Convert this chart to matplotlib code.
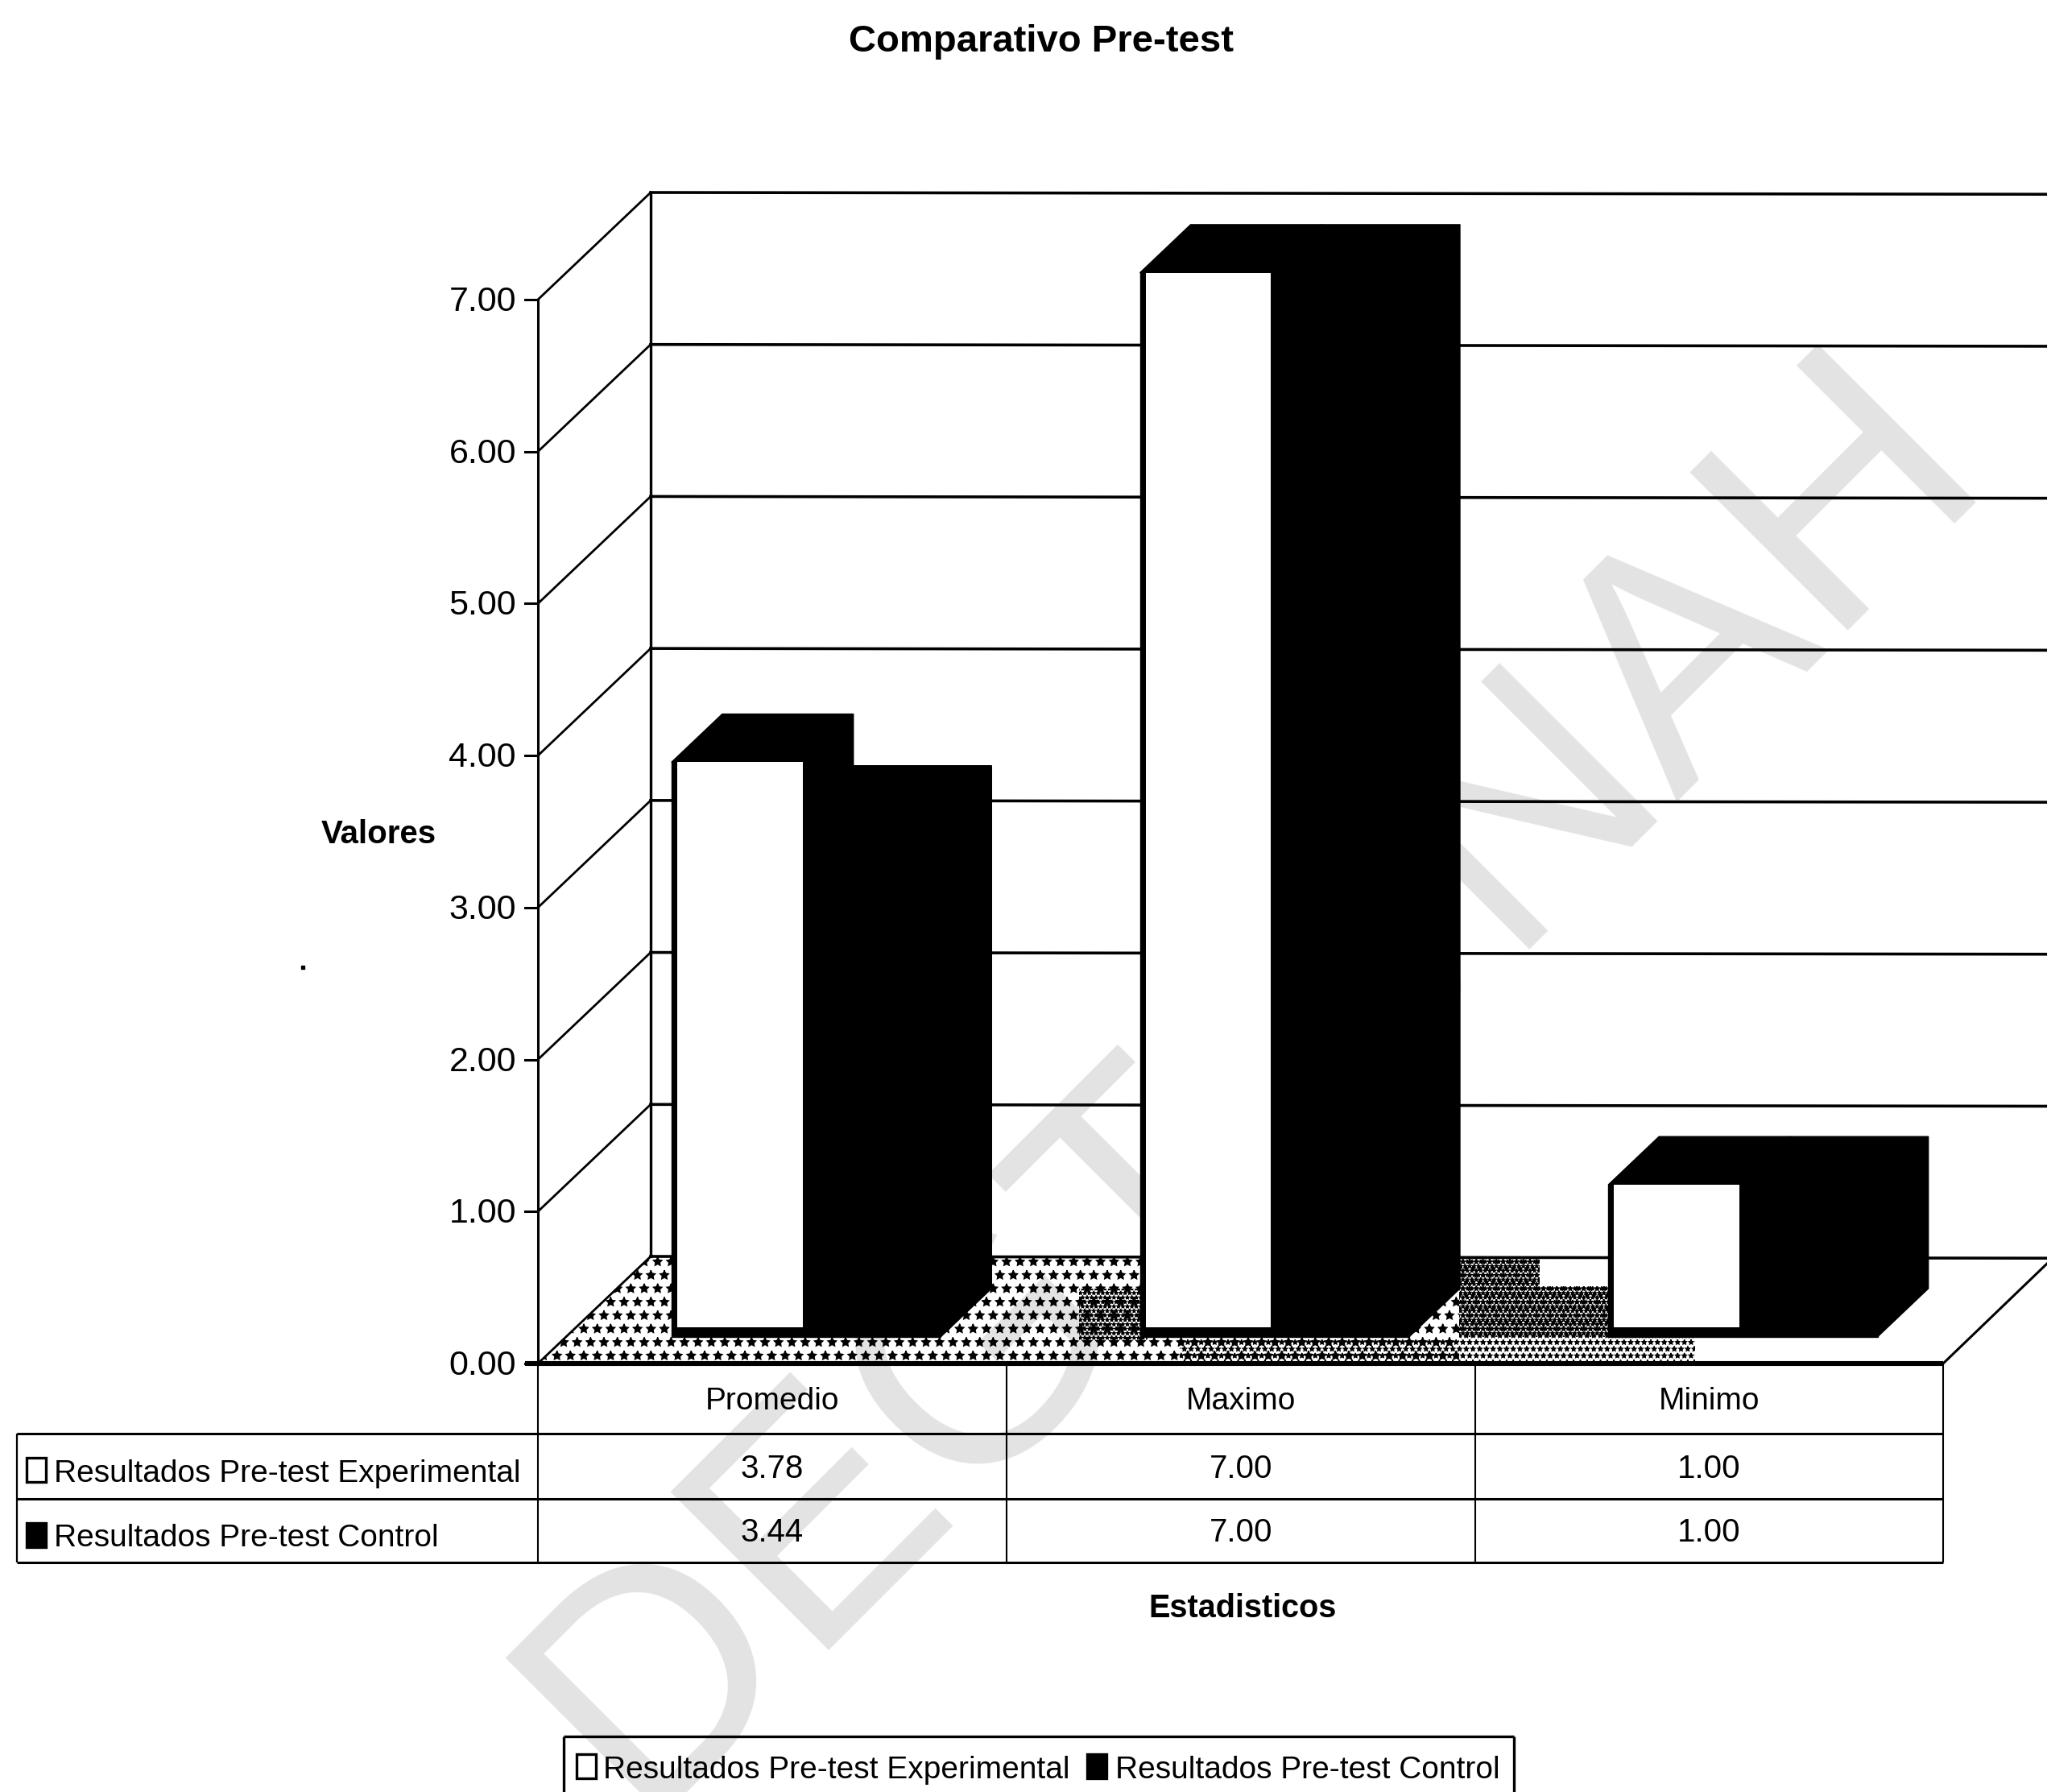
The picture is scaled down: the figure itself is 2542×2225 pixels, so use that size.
import matplotlib
matplotlib.use('Agg')
import matplotlib.pyplot as plt
from matplotlib.patches import Polygon, Rectangle

categorias = ['Promedio', 'Maximo', 'Minimo']
experimental = [3.78, 7.00, 1.00]
control = [3.44, 7.00, 1.00]
serie_exp = 'Resultados Pre-test Experimental'
serie_ctl = 'Resultados Pre-test Control'
ticks_y = [0, 1, 2, 3, 4, 5, 6, 7]

W, H = 2542, 2225
LETRA = 'Liberation Sans'
plt.rcParams['hatch.linewidth'] = 1.0

fig = plt.figure(figsize=(W / 100, H / 100), dpi=100, facecolor='white')

# capa en pixeles para tabla, titulos y leyenda
fondo = fig.add_axes([0, 0, 1, 1])
fondo.set_xlim(0, W)
fondo.set_ylim(H, 0)
fondo.axis('off')

# marca de agua
fondo.text(1556, 1342, 'DEGT-UNAH', rotation=45, fontsize=290, color='#e3e3e3',
           family=LETRA, ha='center', va='center',
           rotation_mode='anchor', zorder=0)

# plano frontal del grafico: x en categorias, y en valores
X0, X1, Y0, Y7 = 668, 2413, 1693, 372
ax = fig.add_axes([X0 / W, 1 - Y0 / H, (X1 - X0) / W, (Y0 - Y7) / H])
ax.set_xlim(0, 3)
ax.set_ylim(0, 7)
ax.patch.set_alpha(0)
ax.axis('off')

PX = 3 / (X1 - X0)
PY = 7 / (Y0 - Y7)
DX = 140 * PX
DY = 133 * PY


def fondo_linea(xs, ys, lw=2.4, z=3):
    fondo.plot(xs, ys, color='black', lw=lw, solid_capstyle='butt', zorder=z)


def prof(x, y, d):
    # proyecta un punto hacia el fondo segun la profundidad d
    return x + d * DX, y + d * DY


# piso punteado
piso = Polygon([(X0, Y0), (X0 + 140, 1560), (1812, 1560), (1812, Y0)],
               facecolor='none', edgecolor='black', hatch='*', lw=0, zorder=1)
fondo.add_patch(piso)
for pts, trama in [([(1812, 1560), (2105, 1560), (2105, 1690), (1812, 1690)], '**'),
                   ([(1812, 1560), (2000, 1560), (2000, 1660), (1812, 1660)], '***'),
                   ([(1340, 1600), (1425, 1600), (1425, 1665), (1340, 1665)], '***'),
                   ([(1465, 1662), (1812, 1662), (1812, 1690), (1465, 1690)], '**')]:
    fondo.add_patch(Polygon(pts, facecolor='none', edgecolor='black', hatch=trama, lw=0, zorder=1))
fondo.add_patch(Rectangle((1912, 1562), 85, 35, facecolor='white', lw=0, zorder=1.5))

# pared del fondo con lineas de division
for t in ticks_y:
    x_a, y_a = prof(0, t, 1)
    ax.plot([0, x_a], [t, y_a], color='black', lw=2.0, clip_on=False, zorder=2)
    ax.plot([x_a, 3.3], [y_a, y_a - 0.012], color='black', lw=2.6, clip_on=False, zorder=2)
    ax.plot([-16 * PX, 0], [t, t], color='black', lw=2.2, clip_on=False, zorder=2)
    ax.text(-27 * PX, t - 3 * PY, format(t, '.2f'), ha='right', va='center', fontsize=31,
            family=LETRA, clip_on=False)
x_a, _ = prof(0, 0, 1)
ax.plot([x_a, x_a], [DY, 7 + DY], color='black', lw=2.4, clip_on=False, zorder=2)
ax.plot([0, 0], [0, 7], color='black', lw=2.2, clip_on=False, zorder=2)
ax.plot([3, 3 + 130 * PX], [0, 125 * PY], color='black', lw=2.2, clip_on=False, zorder=2)

# columnas en 3D: cara frontal, lateral y superior
D_FRENTE = 0.25
D_ATRAS = 0.70
ANCHO_EXP = 0.28
ANCHO_CTL = 0.295
HUECO = 0.225
for i in range(len(categorias)):
    izq = i + HUECO
    med = izq + ANCHO_EXP
    der = med + ANCHO_CTL
    dx_f, dy_f = D_FRENTE * DX, D_FRENTE * DY
    dx_a, dy_a = D_ATRAS * DX, D_ATRAS * DY
    for a, b, v in [(izq, med, experimental[i]), (med, der, control[i])]:
        ax.fill([a + dx_f, a + dx_a, b + dx_a, b + dx_f],
                [v + dy_f, v + dy_a, v + dy_a, v + dy_f],
                facecolor='black', edgecolor='black', lw=1, zorder=4, clip_on=False)
        ax.fill([b + dx_f, b + dx_a, b + dx_a, b + dx_f],
                [dy_f, dy_a, v + dy_a, v + dy_f],
                facecolor='black', edgecolor='black', lw=1, zorder=4, clip_on=False)
    ax.bar(izq + dx_f, experimental[i], bottom=dy_f, width=med - izq, align='edge',
           color='black', edgecolor='black', lw=1, zorder=5, clip_on=False)
    ax.bar(med + dx_f, control[i], bottom=dy_f, width=der - med, align='edge',
           color='black', edgecolor='black', lw=1, zorder=6, clip_on=False)
    ax.bar(izq + dx_f + 7 * PX, experimental[i] - 12 * PY, bottom=dy_f + 12 * PY,
           width=med - izq - 7 * PX, align='edge', color='white', lw=0, zorder=7, clip_on=False)

# linea base gruesa
fondo_linea([652, X1], [Y0, Y0], lw=4.4, z=8)

# tabla de datos
filas_y = [1780, 1861, 1940]
cols_x = [668, 1250, 1832, 2413]
fondo_linea([21, X1], [filas_y[0], filas_y[0]], lw=2.2)
fondo_linea([21, X1], [filas_y[1], filas_y[1]], lw=2.2)
fondo_linea([21, X1], [filas_y[2], filas_y[2]], lw=2.2)
fondo_linea([21, 21], [filas_y[0], filas_y[2]], lw=1.6)
for cx in cols_x:
    fondo_linea([cx, cx], [Y0, filas_y[2]], lw=1.5)
for i, nombre in enumerate(categorias):
    cx = (cols_x[i] + cols_x[i + 1]) / 2
    fondo.text(cx, 1740, nombre, ha='center', va='center', fontsize=28, family=LETRA)
    fondo.text(cx, 1824, format(experimental[i], '.2f'), ha='center', va='center', fontsize=29, family=LETRA)
    fondo.text(cx, 1903, format(control[i], '.2f'), ha='center', va='center', fontsize=29, family=LETRA)


def muestra(x, y, relleno):
    fondo.add_patch(Rectangle((x, y), 24, 30, facecolor=relleno, edgecolor='black', lw=2.4, zorder=3))


muestra(33, 1810, 'white')
muestra(33, 1891, 'black')
fondo.text(67, 1830, serie_exp, va='center', fontsize=28, family=LETRA)
fondo.text(67, 1910, serie_ctl, va='center', fontsize=28, family=LETRA)

# leyenda inferior, recortada por el borde
fondo_linea([700, 1880], [2156, 2156], lw=2.4)
fondo_linea([700, 700], [2156, H], lw=2.4)
fondo_linea([1880, 1880], [2156, H], lw=2.4)
muestra(716, 2178, 'white')
muestra(1350, 2178, 'black')
fondo.text(749, 2198, serie_exp, va='center', fontsize=28, family=LETRA)
fondo.text(1385, 2198, serie_ctl, va='center', fontsize=28, family=LETRA)

# titulos
fondo.text(1293, 52, 'Comparativo Pre-test', ha='center', va='center', fontsize=34,
           family=LETRA, weight='bold')
fondo.text(470, 1036, 'Valores', ha='center', va='center', fontsize=29, family=LETRA, weight='bold')
fondo.text(1543, 1997, 'Estadisticos', ha='center', va='center', fontsize=28.5, family=LETRA, weight='bold')

# motas sueltas del papel
fondo.plot([376, 1529], [1201, 968], 's', color='black', ms=2.5, zorder=9)

fig.savefig('out.png', dpi=100)
